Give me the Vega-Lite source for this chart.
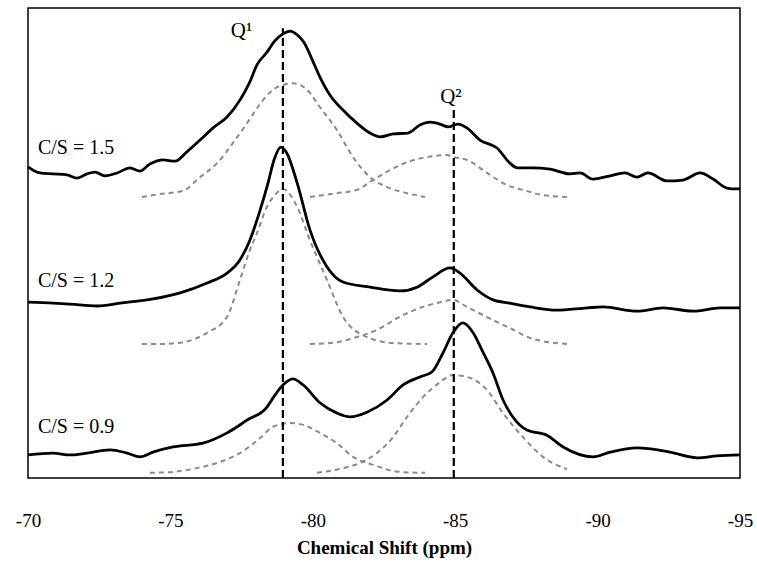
{
  "$schema": "https://vega.github.io/schema/vega-lite/v6.json",
  "autosize": {"type": "none"},
  "padding": {"left": 28, "top": 8, "right": 17, "bottom": 88},
  "width": 712,
  "height": 470,
  "config": {
    "view": {"stroke": "#000", "strokeWidth": 1.5},
    "font": "Liberation Serif"
  },
  "datasets": {
    "curves": [
      {"series": "s15", "kind": "spectrum", "ppm": -70.00, "intensity": 66.2},
      {"series": "s15", "kind": "spectrum", "ppm": -70.42, "intensity": 64.9},
      {"series": "s15", "kind": "spectrum", "ppm": -70.88, "intensity": 64.7},
      {"series": "s15", "kind": "spectrum", "ppm": -71.37, "intensity": 64.5},
      {"series": "s15", "kind": "spectrum", "ppm": -71.72, "intensity": 63.8},
      {"series": "s15", "kind": "spectrum", "ppm": -72.07, "intensity": 64.7},
      {"series": "s15", "kind": "spectrum", "ppm": -72.35, "intensity": 65.1},
      {"series": "s15", "kind": "spectrum", "ppm": -72.70, "intensity": 64.3},
      {"series": "s15", "kind": "spectrum", "ppm": -73.13, "intensity": 64.9},
      {"series": "s15", "kind": "spectrum", "ppm": -73.58, "intensity": 66.0},
      {"series": "s15", "kind": "spectrum", "ppm": -73.93, "intensity": 65.3},
      {"series": "s15", "kind": "spectrum", "ppm": -74.28, "intensity": 66.8},
      {"series": "s15", "kind": "spectrum", "ppm": -74.74, "intensity": 67.7},
      {"series": "s15", "kind": "spectrum", "ppm": -75.16, "intensity": 67.4},
      {"series": "s15", "kind": "spectrum", "ppm": -75.58, "intensity": 69.4},
      {"series": "s15", "kind": "spectrum", "ppm": -76.04, "intensity": 71.9},
      {"series": "s15", "kind": "spectrum", "ppm": -76.50, "intensity": 74.5},
      {"series": "s15", "kind": "spectrum", "ppm": -76.99, "intensity": 76.8},
      {"series": "s15", "kind": "spectrum", "ppm": -77.44, "intensity": 80.4},
      {"series": "s15", "kind": "spectrum", "ppm": -77.79, "intensity": 84.3},
      {"series": "s15", "kind": "spectrum", "ppm": -78.04, "intensity": 87.9},
      {"series": "s15", "kind": "spectrum", "ppm": -78.39, "intensity": 90.6},
      {"series": "s15", "kind": "spectrum", "ppm": -78.65, "intensity": 92.9},
      {"series": "s15", "kind": "spectrum", "ppm": -78.95, "intensity": 94.5},
      {"series": "s15", "kind": "spectrum", "ppm": -79.20, "intensity": 95.1},
      {"series": "s15", "kind": "spectrum", "ppm": -79.45, "intensity": 94.3},
      {"series": "s15", "kind": "spectrum", "ppm": -79.70, "intensity": 92.6},
      {"series": "s15", "kind": "spectrum", "ppm": -79.95, "intensity": 89.4},
      {"series": "s15", "kind": "spectrum", "ppm": -80.25, "intensity": 85.3},
      {"series": "s15", "kind": "spectrum", "ppm": -80.60, "intensity": 81.5},
      {"series": "s15", "kind": "spectrum", "ppm": -81.06, "intensity": 78.3},
      {"series": "s15", "kind": "spectrum", "ppm": -81.55, "intensity": 75.5},
      {"series": "s15", "kind": "spectrum", "ppm": -82.01, "intensity": 73.4},
      {"series": "s15", "kind": "spectrum", "ppm": -82.36, "intensity": 72.6},
      {"series": "s15", "kind": "spectrum", "ppm": -82.82, "intensity": 73.2},
      {"series": "s15", "kind": "spectrum", "ppm": -83.34, "intensity": 73.4},
      {"series": "s15", "kind": "spectrum", "ppm": -83.76, "intensity": 75.1},
      {"series": "s15", "kind": "spectrum", "ppm": -84.12, "intensity": 75.7},
      {"series": "s15", "kind": "spectrum", "ppm": -84.47, "intensity": 75.3},
      {"series": "s15", "kind": "spectrum", "ppm": -84.75, "intensity": 74.7},
      {"series": "s15", "kind": "spectrum", "ppm": -85.10, "intensity": 75.3},
      {"series": "s15", "kind": "spectrum", "ppm": -85.41, "intensity": 74.5},
      {"series": "s15", "kind": "spectrum", "ppm": -85.87, "intensity": 71.9},
      {"series": "s15", "kind": "spectrum", "ppm": -86.47, "intensity": 70.2},
      {"series": "s15", "kind": "spectrum", "ppm": -86.92, "intensity": 67.0},
      {"series": "s15", "kind": "spectrum", "ppm": -87.17, "intensity": 66.0},
      {"series": "s15", "kind": "spectrum", "ppm": -87.73, "intensity": 66.0},
      {"series": "s15", "kind": "spectrum", "ppm": -88.33, "intensity": 65.7},
      {"series": "s15", "kind": "spectrum", "ppm": -89.03, "intensity": 64.7},
      {"series": "s15", "kind": "spectrum", "ppm": -89.38, "intensity": 64.9},
      {"series": "s15", "kind": "spectrum", "ppm": -89.84, "intensity": 63.6},
      {"series": "s15", "kind": "spectrum", "ppm": -90.44, "intensity": 64.3},
      {"series": "s15", "kind": "spectrum", "ppm": -90.96, "intensity": 64.9},
      {"series": "s15", "kind": "spectrum", "ppm": -91.38, "intensity": 64.0},
      {"series": "s15", "kind": "spectrum", "ppm": -91.77, "intensity": 64.9},
      {"series": "s15", "kind": "spectrum", "ppm": -92.44, "intensity": 63.2},
      {"series": "s15", "kind": "spectrum", "ppm": -93.00, "intensity": 63.4},
      {"series": "s15", "kind": "spectrum", "ppm": -93.60, "intensity": 64.9},
      {"series": "s15", "kind": "spectrum", "ppm": -94.06, "intensity": 63.6},
      {"series": "s15", "kind": "spectrum", "ppm": -94.54, "intensity": 61.7},
      {"series": "s15", "kind": "spectrum", "ppm": -94.89, "intensity": 61.5},
      {"series": "s15", "kind": "spectrum", "ppm": -95.00, "intensity": 61.5},

      {"series": "c15a", "kind": "component", "ppm": -74.00, "intensity": 59.8},
      {"series": "c15a", "kind": "component", "ppm": -74.63, "intensity": 60.4},
      {"series": "c15a", "kind": "component", "ppm": -75.44, "intensity": 61.1},
      {"series": "c15a", "kind": "component", "ppm": -76.04, "intensity": 64.0},
      {"series": "c15a", "kind": "component", "ppm": -76.64, "intensity": 67.0},
      {"series": "c15a", "kind": "component", "ppm": -77.20, "intensity": 71.3},
      {"series": "c15a", "kind": "component", "ppm": -77.69, "intensity": 75.5},
      {"series": "c15a", "kind": "component", "ppm": -78.15, "intensity": 79.6},
      {"series": "c15a", "kind": "component", "ppm": -78.60, "intensity": 82.6},
      {"series": "c15a", "kind": "component", "ppm": -78.95, "intensity": 83.6},
      {"series": "c15a", "kind": "component", "ppm": -79.30, "intensity": 84.0},
      {"series": "c15a", "kind": "component", "ppm": -79.80, "intensity": 82.6},
      {"series": "c15a", "kind": "component", "ppm": -80.25, "intensity": 78.9},
      {"series": "c15a", "kind": "component", "ppm": -80.85, "intensity": 74.0},
      {"series": "c15a", "kind": "component", "ppm": -81.41, "intensity": 68.3},
      {"series": "c15a", "kind": "component", "ppm": -82.01, "intensity": 64.0},
      {"series": "c15a", "kind": "component", "ppm": -82.61, "intensity": 61.9},
      {"series": "c15a", "kind": "component", "ppm": -83.31, "intensity": 60.6},
      {"series": "c15a", "kind": "component", "ppm": -83.94, "intensity": 59.8},

      {"series": "c15b", "kind": "component", "ppm": -79.90, "intensity": 59.8},
      {"series": "c15b", "kind": "component", "ppm": -80.85, "intensity": 60.6},
      {"series": "c15b", "kind": "component", "ppm": -81.55, "intensity": 61.3},
      {"series": "c15b", "kind": "component", "ppm": -82.11, "intensity": 63.4},
      {"series": "c15b", "kind": "component", "ppm": -82.71, "intensity": 65.5},
      {"series": "c15b", "kind": "component", "ppm": -83.31, "intensity": 67.2},
      {"series": "c15b", "kind": "component", "ppm": -84.01, "intensity": 68.3},
      {"series": "c15b", "kind": "component", "ppm": -84.71, "intensity": 68.7},
      {"series": "c15b", "kind": "component", "ppm": -84.92, "intensity": 68.3},
      {"series": "c15b", "kind": "component", "ppm": -85.41, "intensity": 67.7},
      {"series": "c15b", "kind": "component", "ppm": -86.12, "intensity": 64.9},
      {"series": "c15b", "kind": "component", "ppm": -86.82, "intensity": 62.3},
      {"series": "c15b", "kind": "component", "ppm": -87.38, "intensity": 61.3},
      {"series": "c15b", "kind": "component", "ppm": -88.08, "intensity": 60.2},
      {"series": "c15b", "kind": "component", "ppm": -88.93, "intensity": 59.8},

      {"series": "s12", "kind": "spectrum", "ppm": -70.00, "intensity": 37.4},
      {"series": "s12", "kind": "spectrum", "ppm": -70.88, "intensity": 37.2},
      {"series": "s12", "kind": "spectrum", "ppm": -71.47, "intensity": 37.0},
      {"series": "s12", "kind": "spectrum", "ppm": -72.42, "intensity": 36.6},
      {"series": "s12", "kind": "spectrum", "ppm": -73.23, "intensity": 37.2},
      {"series": "s12", "kind": "spectrum", "ppm": -74.39, "intensity": 38.1},
      {"series": "s12", "kind": "spectrum", "ppm": -75.34, "intensity": 39.4},
      {"series": "s12", "kind": "spectrum", "ppm": -76.29, "intensity": 41.5},
      {"series": "s12", "kind": "spectrum", "ppm": -76.99, "intensity": 43.6},
      {"series": "s12", "kind": "spectrum", "ppm": -77.44, "intensity": 46.4},
      {"series": "s12", "kind": "spectrum", "ppm": -77.79, "intensity": 50.6},
      {"series": "s12", "kind": "spectrum", "ppm": -78.15, "intensity": 57.0},
      {"series": "s12", "kind": "spectrum", "ppm": -78.43, "intensity": 62.8},
      {"series": "s12", "kind": "spectrum", "ppm": -78.64, "intensity": 67.7},
      {"series": "s12", "kind": "spectrum", "ppm": -78.88, "intensity": 70.4},
      {"series": "s12", "kind": "spectrum", "ppm": -79.09, "intensity": 69.1},
      {"series": "s12", "kind": "spectrum", "ppm": -79.45, "intensity": 62.8},
      {"series": "s12", "kind": "spectrum", "ppm": -79.90, "intensity": 52.8},
      {"series": "s12", "kind": "spectrum", "ppm": -80.50, "intensity": 44.9},
      {"series": "s12", "kind": "spectrum", "ppm": -81.06, "intensity": 41.7},
      {"series": "s12", "kind": "spectrum", "ppm": -82.01, "intensity": 40.6},
      {"series": "s12", "kind": "spectrum", "ppm": -83.06, "intensity": 39.8},
      {"series": "s12", "kind": "spectrum", "ppm": -83.66, "intensity": 40.6},
      {"series": "s12", "kind": "spectrum", "ppm": -84.22, "intensity": 42.8},
      {"series": "s12", "kind": "spectrum", "ppm": -84.82, "intensity": 44.7},
      {"series": "s12", "kind": "spectrum", "ppm": -85.17, "intensity": 43.6},
      {"series": "s12", "kind": "spectrum", "ppm": -85.77, "intensity": 40.0},
      {"series": "s12", "kind": "spectrum", "ppm": -86.33, "intensity": 37.9},
      {"series": "s12", "kind": "spectrum", "ppm": -86.92, "intensity": 37.2},
      {"series": "s12", "kind": "spectrum", "ppm": -87.63, "intensity": 36.4},
      {"series": "s12", "kind": "spectrum", "ppm": -88.57, "intensity": 35.7},
      {"series": "s12", "kind": "spectrum", "ppm": -89.63, "intensity": 36.2},
      {"series": "s12", "kind": "spectrum", "ppm": -90.19, "intensity": 36.4},
      {"series": "s12", "kind": "spectrum", "ppm": -91.38, "intensity": 35.5},
      {"series": "s12", "kind": "spectrum", "ppm": -92.30, "intensity": 36.2},
      {"series": "s12", "kind": "spectrum", "ppm": -93.35, "intensity": 35.5},
      {"series": "s12", "kind": "spectrum", "ppm": -94.30, "intensity": 36.2},
      {"series": "s12", "kind": "spectrum", "ppm": -95.00, "intensity": 36.2},

      {"series": "c12a", "kind": "component", "ppm": -74.00, "intensity": 28.5},
      {"series": "c12a", "kind": "component", "ppm": -74.63, "intensity": 28.5},
      {"series": "c12a", "kind": "component", "ppm": -75.44, "intensity": 28.9},
      {"series": "c12a", "kind": "component", "ppm": -76.29, "intensity": 30.9},
      {"series": "c12a", "kind": "component", "ppm": -76.99, "intensity": 34.3},
      {"series": "c12a", "kind": "component", "ppm": -77.44, "intensity": 42.1},
      {"series": "c12a", "kind": "component", "ppm": -77.79, "intensity": 48.5},
      {"series": "c12a", "kind": "component", "ppm": -78.04, "intensity": 52.1},
      {"series": "c12a", "kind": "component", "ppm": -78.39, "intensity": 57.7},
      {"series": "c12a", "kind": "component", "ppm": -78.67, "intensity": 60.2},
      {"series": "c12a", "kind": "component", "ppm": -78.95, "intensity": 61.5},
      {"series": "c12a", "kind": "component", "ppm": -79.45, "intensity": 57.7},
      {"series": "c12a", "kind": "component", "ppm": -79.90, "intensity": 50.6},
      {"series": "c12a", "kind": "component", "ppm": -80.50, "intensity": 42.1},
      {"series": "c12a", "kind": "component", "ppm": -81.06, "intensity": 34.3},
      {"series": "c12a", "kind": "component", "ppm": -81.90, "intensity": 30.0},
      {"series": "c12a", "kind": "component", "ppm": -82.82, "intensity": 28.7},
      {"series": "c12a", "kind": "component", "ppm": -84.01, "intensity": 28.5},

      {"series": "c12b", "kind": "component", "ppm": -79.90, "intensity": 28.5},
      {"series": "c12b", "kind": "component", "ppm": -80.85, "intensity": 28.9},
      {"series": "c12b", "kind": "component", "ppm": -81.55, "intensity": 30.0},
      {"series": "c12b", "kind": "component", "ppm": -82.25, "intensity": 31.5},
      {"series": "c12b", "kind": "component", "ppm": -83.06, "intensity": 34.3},
      {"series": "c12b", "kind": "component", "ppm": -83.76, "intensity": 36.2},
      {"series": "c12b", "kind": "component", "ppm": -84.47, "intensity": 37.4},
      {"series": "c12b", "kind": "component", "ppm": -84.92, "intensity": 37.9},
      {"series": "c12b", "kind": "component", "ppm": -85.41, "intensity": 36.4},
      {"series": "c12b", "kind": "component", "ppm": -86.33, "intensity": 33.6},
      {"series": "c12b", "kind": "component", "ppm": -86.92, "intensity": 31.9},
      {"series": "c12b", "kind": "component", "ppm": -87.63, "intensity": 29.8},
      {"series": "c12b", "kind": "component", "ppm": -88.93, "intensity": 28.5},

      {"series": "s09", "kind": "spectrum", "ppm": -70.00, "intensity": 4.9},
      {"series": "s09", "kind": "spectrum", "ppm": -70.88, "intensity": 5.3},
      {"series": "s09", "kind": "spectrum", "ppm": -71.47, "intensity": 4.9},
      {"series": "s09", "kind": "spectrum", "ppm": -72.07, "intensity": 5.3},
      {"series": "s09", "kind": "spectrum", "ppm": -72.88, "intensity": 6.0},
      {"series": "s09", "kind": "spectrum", "ppm": -73.48, "intensity": 5.3},
      {"series": "s09", "kind": "spectrum", "ppm": -73.93, "intensity": 4.5},
      {"series": "s09", "kind": "spectrum", "ppm": -74.39, "intensity": 5.5},
      {"series": "s09", "kind": "spectrum", "ppm": -75.09, "intensity": 6.6},
      {"series": "s09", "kind": "spectrum", "ppm": -76.14, "intensity": 7.4},
      {"series": "s09", "kind": "spectrum", "ppm": -76.99, "intensity": 9.6},
      {"series": "s09", "kind": "spectrum", "ppm": -77.69, "intensity": 12.3},
      {"series": "s09", "kind": "spectrum", "ppm": -78.39, "intensity": 15.1},
      {"series": "s09", "kind": "spectrum", "ppm": -78.60, "intensity": 17.0},
      {"series": "s09", "kind": "spectrum", "ppm": -78.95, "intensity": 19.8},
      {"series": "s09", "kind": "spectrum", "ppm": -79.30, "intensity": 21.1},
      {"series": "s09", "kind": "spectrum", "ppm": -79.66, "intensity": 19.8},
      {"series": "s09", "kind": "spectrum", "ppm": -80.25, "intensity": 16.0},
      {"series": "s09", "kind": "spectrum", "ppm": -80.85, "intensity": 13.8},
      {"series": "s09", "kind": "spectrum", "ppm": -81.31, "intensity": 13.0},
      {"series": "s09", "kind": "spectrum", "ppm": -81.90, "intensity": 14.0},
      {"series": "s09", "kind": "spectrum", "ppm": -82.61, "intensity": 16.6},
      {"series": "s09", "kind": "spectrum", "ppm": -83.17, "intensity": 19.8},
      {"series": "s09", "kind": "spectrum", "ppm": -83.76, "intensity": 21.5},
      {"series": "s09", "kind": "spectrum", "ppm": -84.19, "intensity": 22.6},
      {"series": "s09", "kind": "spectrum", "ppm": -84.57, "intensity": 26.6},
      {"series": "s09", "kind": "spectrum", "ppm": -84.92, "intensity": 30.9},
      {"series": "s09", "kind": "spectrum", "ppm": -85.27, "intensity": 33.0},
      {"series": "s09", "kind": "spectrum", "ppm": -85.63, "intensity": 30.9},
      {"series": "s09", "kind": "spectrum", "ppm": -85.94, "intensity": 27.2},
      {"series": "s09", "kind": "spectrum", "ppm": -86.33, "intensity": 22.3},
      {"series": "s09", "kind": "spectrum", "ppm": -86.68, "intensity": 16.6},
      {"series": "s09", "kind": "spectrum", "ppm": -87.00, "intensity": 13.2},
      {"series": "s09", "kind": "spectrum", "ppm": -87.52, "intensity": 10.2},
      {"series": "s09", "kind": "spectrum", "ppm": -88.22, "intensity": 9.1},
      {"series": "s09", "kind": "spectrum", "ppm": -88.79, "intensity": 6.6},
      {"series": "s09", "kind": "spectrum", "ppm": -89.84, "intensity": 4.5},
      {"series": "s09", "kind": "spectrum", "ppm": -90.44, "intensity": 5.5},
      {"series": "s09", "kind": "spectrum", "ppm": -91.38, "intensity": 6.4},
      {"series": "s09", "kind": "spectrum", "ppm": -92.54, "intensity": 5.5},
      {"series": "s09", "kind": "spectrum", "ppm": -93.49, "intensity": 4.3},
      {"series": "s09", "kind": "spectrum", "ppm": -94.19, "intensity": 4.7},
      {"series": "s09", "kind": "spectrum", "ppm": -95.00, "intensity": 4.9},

      {"series": "c09a", "kind": "component", "ppm": -74.28, "intensity": 1.1},
      {"series": "c09a", "kind": "component", "ppm": -75.09, "intensity": 1.3},
      {"series": "c09a", "kind": "component", "ppm": -75.93, "intensity": 2.1},
      {"series": "c09a", "kind": "component", "ppm": -76.74, "intensity": 3.4},
      {"series": "c09a", "kind": "component", "ppm": -77.44, "intensity": 5.3},
      {"series": "c09a", "kind": "component", "ppm": -78.15, "intensity": 8.5},
      {"series": "c09a", "kind": "component", "ppm": -78.60, "intensity": 10.9},
      {"series": "c09a", "kind": "component", "ppm": -79.20, "intensity": 11.7},
      {"series": "c09a", "kind": "component", "ppm": -79.66, "intensity": 11.3},
      {"series": "c09a", "kind": "component", "ppm": -80.25, "intensity": 9.6},
      {"series": "c09a", "kind": "component", "ppm": -80.85, "intensity": 7.4},
      {"series": "c09a", "kind": "component", "ppm": -81.41, "intensity": 4.5},
      {"series": "c09a", "kind": "component", "ppm": -82.11, "intensity": 2.8},
      {"series": "c09a", "kind": "component", "ppm": -83.06, "intensity": 1.3},
      {"series": "c09a", "kind": "component", "ppm": -83.94, "intensity": 1.1},

      {"series": "c09b", "kind": "component", "ppm": -80.15, "intensity": 1.1},
      {"series": "c09b", "kind": "component", "ppm": -81.06, "intensity": 2.1},
      {"series": "c09b", "kind": "component", "ppm": -81.66, "intensity": 3.2},
      {"series": "c09b", "kind": "component", "ppm": -82.25, "intensity": 5.3},
      {"series": "c09b", "kind": "component", "ppm": -82.82, "intensity": 8.7},
      {"series": "c09b", "kind": "component", "ppm": -83.31, "intensity": 13.0},
      {"series": "c09b", "kind": "component", "ppm": -83.87, "intensity": 17.2},
      {"series": "c09b", "kind": "component", "ppm": -84.47, "intensity": 20.4},
      {"series": "c09b", "kind": "component", "ppm": -84.92, "intensity": 21.9},
      {"series": "c09b", "kind": "component", "ppm": -85.41, "intensity": 21.5},
      {"series": "c09b", "kind": "component", "ppm": -86.12, "intensity": 18.7},
      {"series": "c09b", "kind": "component", "ppm": -86.68, "intensity": 13.8},
      {"series": "c09b", "kind": "component", "ppm": -87.38, "intensity": 8.7},
      {"series": "c09b", "kind": "component", "ppm": -88.08, "intensity": 4.5},
      {"series": "c09b", "kind": "component", "ppm": -88.93, "intensity": 1.9}
    ],
    "peaks": [
      {"peak": "Q¹", "ppm": -78.95, "top": 95.7, "bottom": 0, "labelPpm": -77.5, "labelY": 95.1},
      {"peak": "Q²", "ppm": -84.95, "top": 78.9, "bottom": 0, "labelPpm": -84.85, "labelY": 81.1}
    ],
    "labels": [
      {"label": "C/S = 1.5", "ppm": -70.35, "intensity": 70.2},
      {"label": "C/S = 1.2", "ppm": -70.35, "intensity": 41.9},
      {"label": "C/S = 0.9", "ppm": -70.35, "intensity": 10.9}
    ]
  },
  "encoding": {
    "x": {
      "field": "ppm",
      "type": "quantitative",
      "scale": {"domain": [-95, -70], "reverse": true, "nice": false, "zero": false},
      "axis": {
        "values": [-70, -75, -80, -85, -90, -95],
        "labelExpr": "'-' + abs(datum.value)",
        "ticks": false,
        "domain": false,
        "grid": false,
        "labelFlush": false,
        "labelPadding": 33,
        "labelFont": "Liberation Serif",
        "labelFontSize": 19,
        "labelColor": "#000",
        "title": "Chemical Shift (ppm)",
        "titleFont": "Liberation Serif",
        "titleFontSize": 19,
        "titleFontWeight": "bold",
        "titleColor": "#000",
        "titlePadding": 8
      }
    },
    "y": {
      "field": "intensity",
      "type": "quantitative",
      "scale": {"domain": [0, 100], "nice": false, "zero": false},
      "axis": null
    }
  },
  "layer": [
    {
      "data": {"name": "curves"},
      "transform": [{"filter": "datum.kind == 'component'"}],
      "mark": {"type": "line", "interpolate": "monotone", "stroke": "#8a8a8a", "strokeWidth": 2, "strokeDash": [5, 4]},
      "encoding": {"detail": {"field": "series"}}
    },
    {
      "data": {"name": "peaks"},
      "mark": {"type": "rule", "stroke": "#000", "strokeWidth": 2.2, "strokeDash": [8, 4]},
      "encoding": {
        "y": {"field": "bottom", "type": "quantitative"},
        "y2": {"field": "top"}
      }
    },
    {
      "data": {"name": "curves"},
      "transform": [{"filter": "datum.kind == 'spectrum'"}],
      "mark": {"type": "line", "interpolate": "monotone", "stroke": "#000", "strokeWidth": 2.8},
      "encoding": {"detail": {"field": "series"}}
    },
    {
      "data": {"name": "peaks"},
      "mark": {"type": "text", "font": "Liberation Serif", "fontSize": 21, "color": "#000", "align": "center", "baseline": "middle"},
      "encoding": {
        "x": {"field": "labelPpm", "type": "quantitative"},
        "y": {"field": "labelY", "type": "quantitative"},
        "text": {"field": "peak"}
      }
    },
    {
      "data": {"name": "labels"},
      "mark": {"type": "text", "font": "Liberation Serif", "fontSize": 20, "color": "#000", "align": "left", "baseline": "middle"},
      "encoding": {
        "text": {"field": "label"}
      }
    }
  ]
}
